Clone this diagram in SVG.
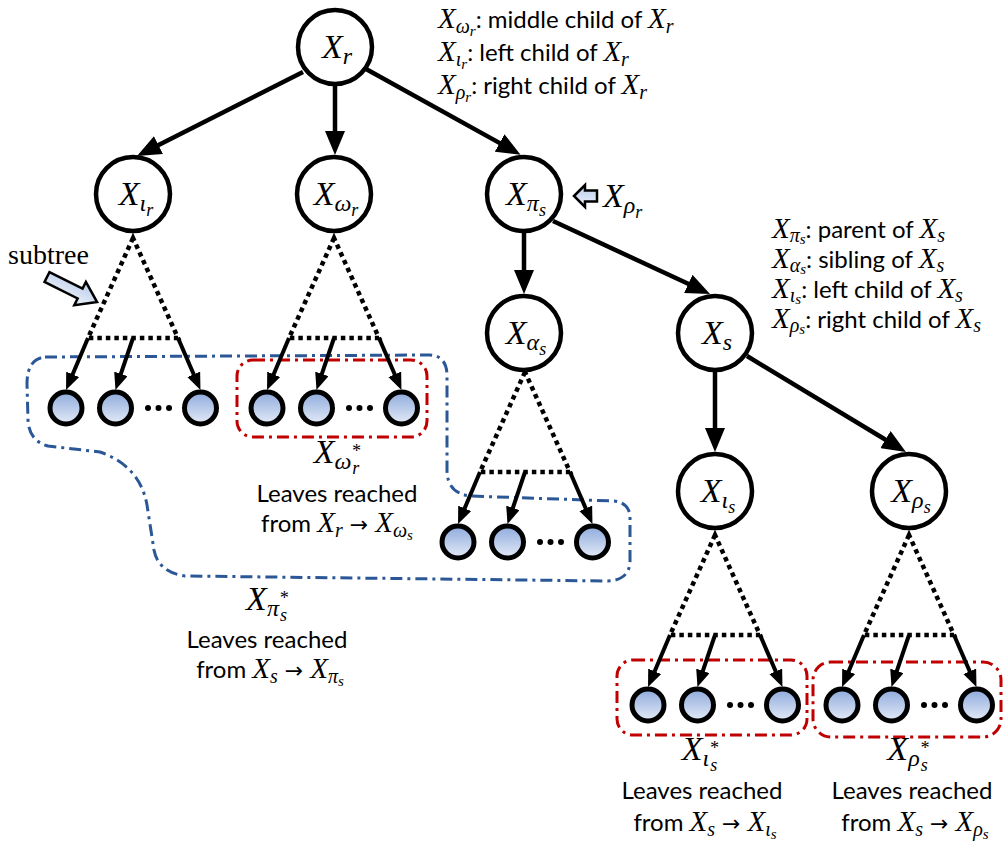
<svg xmlns="http://www.w3.org/2000/svg" width="1003" height="843" viewBox="0 0 1003 843">
<defs>
<linearGradient id="leafg" x1="0" y1="0" x2="0" y2="1">
<stop offset="0" stop-color="#8eaadc"/>
<stop offset="1" stop-color="#e4ebf7"/>
</linearGradient>
<linearGradient id="blockg" x1="0" y1="0" x2="0" y2="1">
<stop offset="0" stop-color="#b9cbea"/>
<stop offset="1" stop-color="#eef3fb"/>
</linearGradient>
<marker id="big" markerUnits="userSpaceOnUse" markerWidth="24" markerHeight="20" viewBox="0 0 24 20" refX="7" refY="10" orient="auto">
<path d="M0,0 L24,10 L0,20 z" fill="#000"/>
</marker>
<marker id="small" markerUnits="userSpaceOnUse" markerWidth="17" markerHeight="14" viewBox="0 0 17 14" refX="4" refY="7" orient="auto">
<path d="M0,0 L17,7 L0,14 z" fill="#000"/>
</marker>
</defs>
<style>
.node{fill:#fff;stroke:#000;stroke-width:4.5}
.leaf{fill:url(#leafg);stroke:#000;stroke-width:5}
.edge{stroke:#000;stroke-width:4.5;fill:none;marker-end:url(#big)}
.ledge{stroke:#000;stroke-width:4;fill:none;marker-end:url(#small)}
.dot{stroke:#000;stroke-width:4.5;fill:none;stroke-dasharray:4.5 4}
.blue{fill:none;stroke:#2b5797;stroke-width:3;stroke-dasharray:12 5 3 5}
.red{fill:none;stroke:#c00000;stroke-width:3;stroke-dasharray:12 5 3 5}
.m{font-family:"Liberation Serif","DejaVu Serif",serif;font-style:italic}
.nl{font-size:34px}
.s1{font-size:24px}
.s2{font-size:18px}
.lt{font-family:Lato,"Liberation Sans",sans-serif;font-size:24px;fill:#000}
.lb{font-family:Lato,"Liberation Sans",sans-serif;font-size:24px;fill:#000}
.mi{font-family:"Liberation Serif","DejaVu Serif",serif;font-style:italic;font-size:29px}
.mis{font-family:"Liberation Serif","DejaVu Serif",serif;font-style:italic;font-size:20px}
.miss{font-family:"Liberation Serif","DejaVu Serif",serif;font-style:italic;font-size:15px}
.arr{font-family:"DejaVu Sans","Liberation Serif",serif;font-style:normal;font-size:22px}
.blk{fill:url(#blockg);stroke:#000;stroke-width:2.5;stroke-linejoin:miter}
</style>

<!-- groupings -->
<g id="groupings">
<path class="blue" d="M45,357 L430,355 Q447,356 447,376 L447,470 Q447,493 470,496 L614,501 Q630,503 630,518 L630,562 Q629,580 608,581 L185,576 Q158,572 154,550 L147,505 Q140,466 100,452 L48,446 Q29,441 28,420 L27,384 Q27,359 45,357 Z"/>
<rect class="red" x="237" y="360" width="190" height="77" rx="16"/>
<rect class="red" x="617" y="660" width="190" height="75" rx="16"/>
<rect class="red" x="813" y="662" width="188" height="75" rx="18"/>
</g>

<!-- connectors -->
<g id="connectors">
<line class="edge" x1="303" y1="72" x2="152.2" y2="148.3"/>
<line class="edge" x1="335" y1="86" x2="335" y2="138"/>
<line class="edge" x1="366" y1="69" x2="505.7" y2="146.4"/>
<line class="edge" x1="524" y1="233" x2="524" y2="277"/>
<line class="edge" x1="553" y1="221" x2="694.6" y2="286.8"/>
<line class="edge" x1="715" y1="372" x2="715" y2="435"/>
<line class="edge" x1="747" y1="356" x2="891.4" y2="443.2"/>
</g>

<!-- subtrees -->
<g id="subtree-iota-r" transform="translate(133,338)">
<path class="dot" d="M0,-100 L-45,0 L45,0 Z"/>
<line class="ledge" x1="-45" y1="0" x2="-61.9" y2="40"/>
<line class="ledge" x1="0" y1="0" x2="-13.4" y2="39.7"/>
<line class="ledge" x1="45" y1="0" x2="62.3" y2="40"/>
<circle class="leaf" cx="-67" cy="70" r="16"/>
<circle class="leaf" cx="-17.5" cy="70" r="16"/>
<circle class="leaf" cx="67.5" cy="70" r="16"/>
<circle cx="15" cy="70" r="3"/><circle cx="25.5" cy="70" r="3"/><circle cx="36" cy="70" r="3"/>
</g>
<g id="subtree-omega-r" transform="translate(334,338)">
<path class="dot" d="M0,-100 L-45,0 L45,0 Z"/>
<line class="ledge" x1="-45" y1="0" x2="-61.9" y2="40"/>
<line class="ledge" x1="0" y1="0" x2="-13.4" y2="39.7"/>
<line class="ledge" x1="45" y1="0" x2="62.3" y2="40"/>
<circle class="leaf" cx="-67" cy="70" r="16"/>
<circle class="leaf" cx="-17.5" cy="70" r="16"/>
<circle class="leaf" cx="67.5" cy="70" r="16"/>
<circle cx="15" cy="70" r="3"/><circle cx="25.5" cy="70" r="3"/><circle cx="36" cy="70" r="3"/>
</g>
<g id="subtree-alpha-s" transform="translate(525,472)">
<path class="dot" d="M0,-100 L-45,0 L45,0 Z"/>
<line class="ledge" x1="-45" y1="0" x2="-61.9" y2="40"/>
<line class="ledge" x1="0" y1="0" x2="-13.4" y2="39.7"/>
<line class="ledge" x1="45" y1="0" x2="62.3" y2="40"/>
<circle class="leaf" cx="-67" cy="70" r="16"/>
<circle class="leaf" cx="-17.5" cy="70" r="16"/>
<circle class="leaf" cx="67.5" cy="70" r="16"/>
<circle cx="15" cy="70" r="3"/><circle cx="25.5" cy="70" r="3"/><circle cx="36" cy="70" r="3"/>
</g>
<g id="subtree-iota-s" transform="translate(715,635)">
<path class="dot" d="M0,-100 L-45,0 L45,0 Z"/>
<line class="ledge" x1="-45" y1="0" x2="-61.9" y2="40"/>
<line class="ledge" x1="0" y1="0" x2="-13.4" y2="39.7"/>
<line class="ledge" x1="45" y1="0" x2="62.3" y2="40"/>
<circle class="leaf" cx="-67" cy="70" r="16"/>
<circle class="leaf" cx="-17.5" cy="70" r="16"/>
<circle class="leaf" cx="67.5" cy="70" r="16"/>
<circle cx="15" cy="70" r="3"/><circle cx="25.5" cy="70" r="3"/><circle cx="36" cy="70" r="3"/>
</g>
<g id="subtree-rho-s" transform="translate(909,635)">
<path class="dot" d="M0,-100 L-45,0 L45,0 Z"/>
<line class="ledge" x1="-45" y1="0" x2="-61.9" y2="40"/>
<line class="ledge" x1="0" y1="0" x2="-13.4" y2="39.7"/>
<line class="ledge" x1="45" y1="0" x2="62.3" y2="40"/>
<circle class="leaf" cx="-67" cy="70" r="16"/>
<circle class="leaf" cx="-17.5" cy="70" r="16"/>
<circle class="leaf" cx="67.5" cy="70" r="16"/>
<circle cx="15" cy="70" r="3"/><circle cx="25.5" cy="70" r="3"/><circle cx="36" cy="70" r="3"/>
</g>

<!-- nodes -->
<g id="node-Xr"><circle class="node" cx="335" cy="47" r="37"/>
<text class="m nl" x="337" y="58" text-anchor="middle">X<tspan class="s1" dy="6">r</tspan></text></g>
<g id="node-Xiota-r"><circle class="node" cx="133" cy="194" r="37"/>
<text class="m nl" x="136" y="205" text-anchor="middle">X<tspan class="s1" dy="6">ι</tspan><tspan class="s2" dy="5">r</tspan></text></g>
<g id="node-Xomega-r"><circle class="node" cx="334" cy="194" r="37"/>
<text class="m nl" x="336" y="205" text-anchor="middle">X<tspan class="s1" dy="6">ω</tspan><tspan class="s2" dy="5">r</tspan></text></g>
<g id="node-Xpi-s"><circle class="node" cx="524" cy="194" r="37"/>
<text class="m nl" x="526" y="205" text-anchor="middle">X<tspan class="s1" dy="6">π</tspan><tspan class="s2" dy="5">s</tspan></text></g>
<g id="node-Xalpha-s"><circle class="node" cx="524" cy="333" r="37"/>
<text class="m nl" x="526" y="344" text-anchor="middle">X<tspan class="s1" dy="6">α</tspan><tspan class="s2" dy="5">s</tspan></text></g>
<g id="node-Xs"><circle class="node" cx="715" cy="333" r="37"/>
<text class="m nl" x="717" y="344" text-anchor="middle">X<tspan class="s1" dy="6">s</tspan></text></g>
<g id="node-Xiota-s"><circle class="node" cx="715" cy="491" r="37"/>
<text class="m nl" x="718" y="502" text-anchor="middle">X<tspan class="s1" dy="6">ι</tspan><tspan class="s2" dy="5">s</tspan></text></g>
<g id="node-Xrho-s"><circle class="node" cx="909" cy="491" r="37"/>
<text class="m nl" x="911" y="502" text-anchor="middle">X<tspan class="s1" dy="6">ρ</tspan><tspan class="s2" dy="5">s</tspan></text></g>

<!-- X_rho_r pointer -->
<g id="rho-r-pointer">
<polygon class="blk" points="574,196 585,185 585,190.5 597,190.5 597,201.5 585,201.5 585,207"/>
<text class="m nl" x="603" y="207">X<tspan class="s1" dy="6">ρ</tspan><tspan class="s2" dy="5">r</tspan></text>
</g>

<!-- subtree pointer -->
<g id="subtree-pointer">
<text x="8" y="264" font-family="Liberation Serif,serif" font-size="28">subtree</text>
<polygon class="blk" transform="translate(47,277) rotate(26.6)" points="0,-5.5 37,-5.5 37,-13 56,0 37,13 37,5.5 0,5.5"/>
</g>

<!-- legends -->
<g id="legend-r">
<text class="lt" x="438" y="28"><tspan class="mi">X</tspan><tspan class="mis" dy="5">ω</tspan><tspan class="miss" dy="3">r</tspan><tspan dy="-8">: middle child of </tspan><tspan class="mi">X</tspan><tspan class="mis" dy="5">r</tspan></text>
<text class="lt" x="438" y="61"><tspan class="mi">X</tspan><tspan class="mis" dy="5">ι</tspan><tspan class="miss" dy="3">r</tspan><tspan dy="-8">: left child of </tspan><tspan class="mi">X</tspan><tspan class="mis" dy="5">r</tspan></text>
<text class="lt" x="438" y="94"><tspan class="mi">X</tspan><tspan class="mis" dy="5">ρ</tspan><tspan class="miss" dy="3">r</tspan><tspan dy="-8">: right child of </tspan><tspan class="mi">X</tspan><tspan class="mis" dy="5">r</tspan></text>
</g>
<g id="legend-s">
<text class="lt" x="772" y="238"><tspan class="mi">X</tspan><tspan class="mis" dy="4">π</tspan><tspan class="miss" dy="2">s</tspan><tspan dy="-6">: parent of </tspan><tspan class="mi">X</tspan><tspan class="mis" dy="4">s</tspan></text>
<text class="lt" x="772" y="268"><tspan class="mi">X</tspan><tspan class="mis" dy="4">α</tspan><tspan class="miss" dy="2">s</tspan><tspan dy="-6">: sibling of </tspan><tspan class="mi">X</tspan><tspan class="mis" dy="4">s</tspan></text>
<text class="lt" x="772" y="298"><tspan class="mi">X</tspan><tspan class="mis" dy="4">ι</tspan><tspan class="miss" dy="2">s</tspan><tspan dy="-6">: left child of </tspan><tspan class="mi">X</tspan><tspan class="mis" dy="4">s</tspan></text>
<text class="lt" x="772" y="328"><tspan class="mi">X</tspan><tspan class="mis" dy="4">ρ</tspan><tspan class="miss" dy="2">s</tspan><tspan dy="-6">: right child of </tspan><tspan class="mi">X</tspan><tspan class="mis" dy="4">s</tspan></text>
</g>

<!-- leaf set labels -->
<g id="label-omega-r-star">
<text class="m nl" x="337" y="463" text-anchor="middle">X<tspan class="s1" dy="6">ω</tspan><tspan class="s2" dy="-12">*</tspan><tspan class="s2" dx="-8" dy="17">r</tspan></text>
<text class="lb" x="337" y="502" text-anchor="middle">Leaves reached</text>
<text class="lb" x="337" y="532" text-anchor="middle">from <tspan class="mi">X</tspan><tspan class="mis" dy="5">r</tspan><tspan class="arr" dy="-5"> → </tspan><tspan class="mi">X</tspan><tspan class="mis" dy="5">ω</tspan><tspan class="miss" dy="3">s</tspan></text>
</g>
<g id="label-pi-s-star">
<text class="m nl" x="267" y="610" text-anchor="middle">X<tspan class="s1" dy="6">π</tspan><tspan class="s2" dy="-12">*</tspan><tspan class="s2" dx="-8" dy="17">s</tspan></text>
<text class="lb" x="267" y="648" text-anchor="middle">Leaves reached</text>
<text class="lb" x="270" y="678" text-anchor="middle">from <tspan class="mi">X</tspan><tspan class="mis" dy="5">s</tspan><tspan class="arr" dy="-5"> → </tspan><tspan class="mi">X</tspan><tspan class="mis" dy="5">π</tspan><tspan class="miss" dy="3">s</tspan></text>
</g>
<g id="label-iota-s-star">
<text class="m nl" x="700" y="760" text-anchor="middle">X<tspan class="s1" dy="6">ι</tspan><tspan class="s2" dy="-12">*</tspan><tspan class="s2" dx="-8" dy="17">s</tspan></text>
<text class="lb" x="702" y="799" text-anchor="middle">Leaves reached</text>
<text class="lb" x="705" y="831" text-anchor="middle">from <tspan class="mi">X</tspan><tspan class="mis" dy="5">s</tspan><tspan class="arr" dy="-5"> → </tspan><tspan class="mi">X</tspan><tspan class="mis" dy="5">ι</tspan><tspan class="miss" dy="3">s</tspan></text>
</g>
<g id="label-rho-s-star">
<text class="m nl" x="908" y="760" text-anchor="middle">X<tspan class="s1" dy="6">ρ</tspan><tspan class="s2" dy="-12">*</tspan><tspan class="s2" dx="-8" dy="17">s</tspan></text>
<text class="lb" x="912" y="799" text-anchor="middle">Leaves reached</text>
<text class="lb" x="915" y="831" text-anchor="middle">from <tspan class="mi">X</tspan><tspan class="mis" dy="5">s</tspan><tspan class="arr" dy="-5"> → </tspan><tspan class="mi">X</tspan><tspan class="mis" dy="5">ρ</tspan><tspan class="miss" dy="3">s</tspan></text>
</g>
</svg>
